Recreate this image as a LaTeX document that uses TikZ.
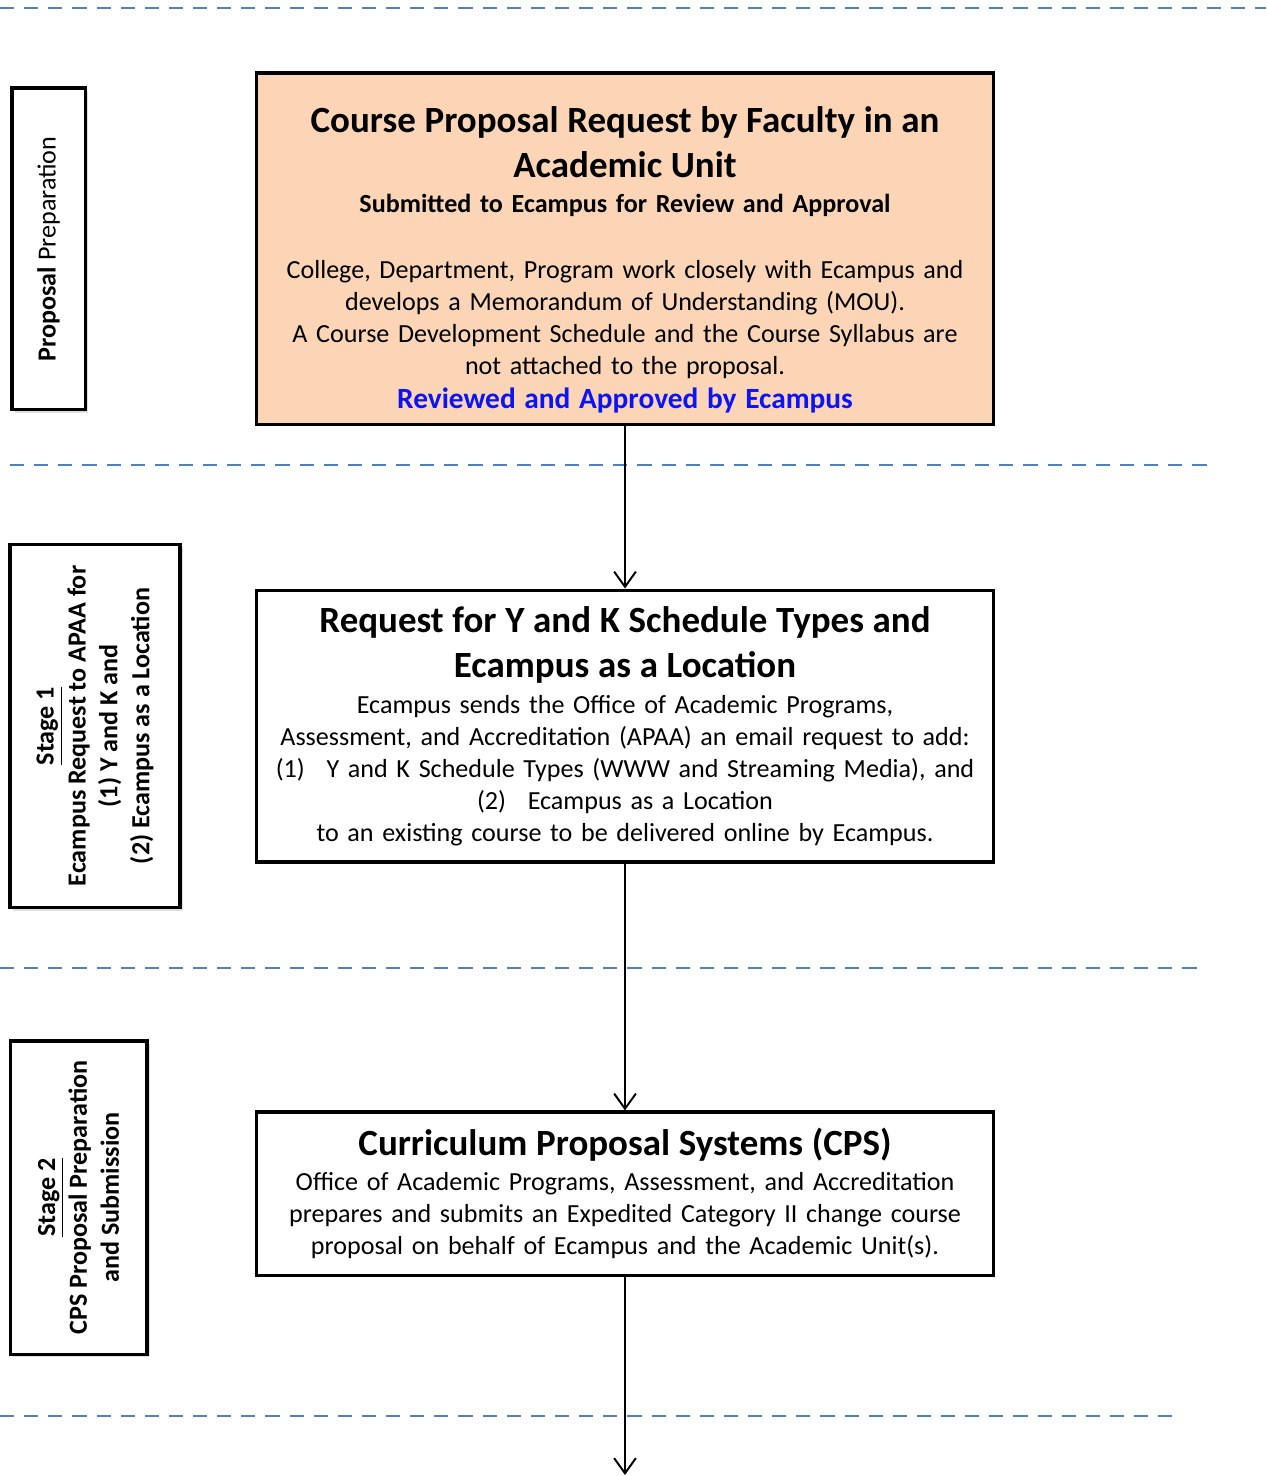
\documentclass[tikz,border=0pt]{standalone}
\usepackage{fontspec}
\setmainfont{Carlito}
\usetikzlibrary{arrows.meta,shadows}

\definecolor{peach}{HTML}{FBD5B5}
\definecolor{sepblue}{HTML}{4F81BD}
\definecolor{revblue}{RGB}{10,20,245}

\newcommand{\boxtitle}{\fontsize{17}{20.7}\selectfont\bfseries}

\tikzset{
	flowbox/.style={draw, line width=1.4pt, minimum width=338.6pt, text width=330pt, align=center, inner sep=0pt, font=\fontsize{12}{14.7}\selectfont},
	stagebox/.style={draw, fill=white, line width=1.4pt, inner sep=0pt, drop shadow={opacity=0.25, shadow xshift=1.2pt, shadow yshift=-1.2pt}},
	stagetext/.style={rotate=90, align=center, font=\fontsize{12}{14.7}\selectfont\bfseries},
	flowarrow/.style={line width=0.9pt, -{Straight Barb[length=7pt,width=10pt]}},
	sepline/.style={sepblue, line width=0.9pt, dash pattern=on 6.5pt off 4.6pt},
}

\begin{document}
\begin{tikzpicture}[x=0.46pt, y=-0.46pt]
		\useasboundingbox (0,0) rectangle (1266,1476);
		
		% stage separators
		\draw [sepline] (0,8) -- (1266,8);
		\draw [sepline] (10,465) -- (1215,465);
		\draw [sepline] (0,968) -- (1205,968);
		\draw [sepline] (0,1416) -- (1175,1416);
		
		% stage labels
		\node [stagebox, minimum width=33.6pt, minimum height=148.1pt,
			label={[stagetext]center:{Proposal {\mdseries Preparation}}}] (prep) at (48.5,249) {};
		\node [stagebox, minimum width=78.2pt, minimum height=167.4pt,
			label={[stagetext]center:{\underline{Stage 1}\\ Ecampus Request to APAA for\\ (1) Y and K and\\ (2) Ecampus as a Location}}] (stageone) at (95,726) {};
		\node [stagebox, minimum width=63pt, minimum height=144pt,
			label={[stagetext]center:{\underline{Stage 2}\\ CPS Proposal Preparation\\ and Submission}}] (stagetwo) at (78.5,1197.5) {};
		
		% flow boxes
		\node [flowbox, fill=peach, minimum height=161.9pt] (req) at (625,249) {\par\vspace*{1.2pt}
			{\boxtitle Course Proposal Request by Faculty in an\\ Academic Unit\par}
			\vspace{1.5pt}
			{\bfseries Submitted to Ecampus for Review and Approval\par}
			\vspace{15.5pt}
			College, Department, Program work closely with Ecampus and\\ develops a Memorandum of Understanding (MOU).\\ A Course Development Schedule and the Course Syllabus are\\ not attached to the proposal.\par
			{\fontsize{13.5}{15.7}\selectfont\bfseries\color{revblue} Reviewed and Approved by Ecampus\par}};
		\node [flowbox, minimum height=125.1pt] (yk) at (625,726) {
			{\boxtitle Request for Y and K Schedule Types and\\ Ecampus as a Location\par}
			\vspace{2pt}
			Ecampus sends the Office of Academic Programs,\\ Assessment, and Accreditation (APAA) an email request to add:\\ (1)\enspace\ Y and K Schedule Types (WWW and Streaming Media), and\\ (2)\enspace\ Ecampus as a Location\\ to an existing course to be delivered online by Ecampus.};
		\node [flowbox, minimum height=75pt] (cps) at (625,1193.5) {
			{\boxtitle Curriculum Proposal Systems (CPS)\par}
			\vspace{1.5pt}
			Office of Academic Programs, Assessment, and Accreditation\\ prepares and submits an Expedited Category II change course\\ proposal on behalf of Ecampus and the Academic Unit(s).};
		
		\coordinate (next) at (625,1475);
		\draw [flowarrow] (req) -- (yk);
		\draw [flowarrow] (yk) -- (cps);
		\draw [flowarrow] (cps) -- (next);
\end{tikzpicture}
\end{document}
